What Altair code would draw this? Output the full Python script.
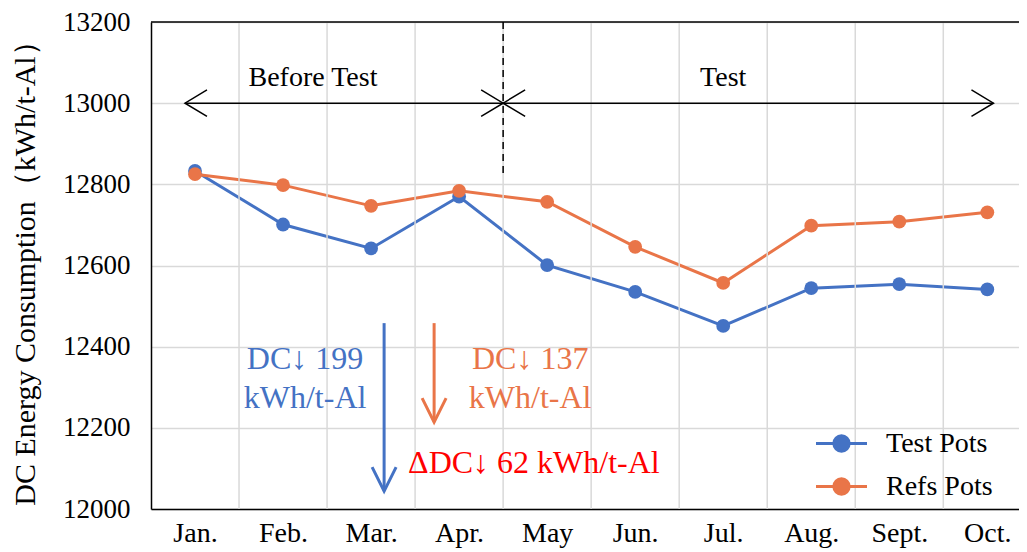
import altair as alt
import pandas as pd

# ---------------- data ----------------
months = ["Jan.", "Feb.", "Mar.", "Apr.", "May", "Jun.", "Jul.", "Aug.", "Sept.", "Oct."]
test_pots = [12833, 12701, 12642, 12770, 12601, 12535, 12451, 12544, 12554, 12541]
refs_pots = [12825, 12798, 12747, 12784, 12757, 12646, 12557, 12698, 12708, 12731]
series_names = ["Test Pots", "Refs Pots"]
y_ticks = [12000, 12200, 12400, 12600, 12800, 13000, 13200]

FONT = "Liberation Serif"
BLUE = "#4472C4"
ORANGE = "#E97548"
GRID = "#d9d9d9"

rows = []
for i, m in enumerate(months):
    rows.append({"idx": i, "month": m, "series": series_names[0], "value": test_pots[i]})
for i, m in enumerate(months):
    rows.append({"idx": i, "month": m, "series": series_names[1], "value": refs_pots[i]})
df = pd.DataFrame(rows)

xscale = alt.Scale(domain=[-0.5, 9.36], nice=False, zero=False)
yscale = alt.Scale(domain=[y_ticks[0], y_ticks[-1]], nice=False, zero=False)
label_expr = "[" + ",".join("'%s'" % m for m in months) + "][datum.value]"

XAXIS = alt.Axis(
    values=list(range(len(months))), labelExpr=label_expr, ticks=False, tickSize=0,
    grid=False, title=None, domainColor="black", domainWidth=1.5,
    labelFont=FONT, labelFontSize=28, labelColor="black", labelPadding=10,
    labelFlush=False, labelOverlap=False,
)
YAXIS = alt.Axis(
    values=y_ticks, format="d", ticks=False, tickSize=0, grid=True, gridColor=GRID, gridWidth=1.5,
    domainColor="black", domainWidth=1.5,
    labelFont=FONT, labelFontSize=27, labelColor="black", labelPadding=21,
    title="DC Energy Consumption（kWh/t-Al）", titleFont=FONT, titleFontSize=30,
    titleFontWeight="normal", titleColor="black", titlePadding=22,
)


def X(field):
    return alt.X(field, scale=xscale, axis=XAXIS)


def Y(field):
    return alt.Y(field, scale=yscale, axis=YAXIS)


# vertical grid lines between categories
bounds = pd.DataFrame({"b": [i + 0.5 for i in range(len(months) - 1)]})
vgrid = alt.Chart(bounds).mark_rule(color=GRID, strokeWidth=1.5).encode(x=X("b:Q"))

top_line = alt.Chart(pd.DataFrame({"y": [y_ticks[-1]]})).mark_rule(
    color="black", strokeWidth=1.5
).encode(y=Y("y:Q"))

sym_path = "M-2,0L2,0M0.6,0A0.6,0.6,0,1,1,-0.6,0A0.6,0.6,0,1,1,0.6,0"

lines = alt.Chart(df).mark_line(
    strokeWidth=3, point=alt.OverlayMarkDef(filled=True, size=190, opacity=1)
).encode(
    x=X("idx:Q"),
    y=Y("value:Q"),
    color=alt.Color(
        "series:N", sort=series_names,
        scale=alt.Scale(domain=series_names, range=[BLUE, ORANGE]),
        legend=alt.Legend(
            title=None, orient="none", legendX=676, legendY=407,
            symbolType=sym_path, symbolSize=650, symbolStrokeWidth=3,
            labelFont=FONT, labelFontSize=28, labelColor="black", labelOffset=30,
            rowPadding=14,
        ),
    ),
)

# dashed separator between periods
sep = alt.Chart(pd.DataFrame({"x": [3.5], "y": [13200], "y2": [12828]})).mark_rule(
    color="black", strokeWidth=1.5, strokeDash=[7, 5]
).encode(x=X("x:Q"), y=Y("y:Q"), y2="y2:Q")

# horizontal double arrows
harrows = pd.DataFrame({"x": [-0.114, 3.5], "x2": [3.5, 9.07], "y": [13000, 13000]})
hline = alt.Chart(harrows).mark_rule(color="black", strokeWidth=1.5).encode(
    x=X("x:Q"), x2="x2:Q", y=Y("y:Q")
)
left_heads = alt.Chart(harrows).mark_point(
    shape="M1,-0.6L0,0L1,0.6", size=1936, filled=False, color="black", strokeWidth=1.5, opacity=1
).encode(x=X("x:Q"), y=Y("y:Q"))
right_heads = alt.Chart(harrows).mark_point(
    shape="M-1,-0.6L0,0L-1,0.6", size=1936, filled=False, color="black", strokeWidth=1.5, opacity=1
).encode(x=X("x2:Q"), y=Y("y:Q"))

period_text = pd.DataFrame({"x": [1.34, 6.0], "y": [13042, 13042], "t": ["Before Test", "Test"]})
period_labels = alt.Chart(period_text).mark_text(
    font=FONT, fontSize=28, color="black", align="center", baseline="alphabetic"
).encode(x=X("x:Q"), y=Y("y:Q"), text="t:N")

# vertical down arrows
varrows = pd.DataFrame({"x": [2.148, 2.716], "y": [12458, 12458], "y2": [12044, 12214],
                        "c": [BLUE, ORANGE]})
vline = alt.Chart(varrows).mark_rule(strokeWidth=3).encode(
    x=X("x:Q"), y=Y("y:Q"), y2="y2:Q",
    color=alt.Color("c:N", scale=None),
)
vheads = alt.Chart(varrows).mark_point(
    shape="M-0.5,-1L0,0L0.5,-1", size=2304, filled=False, strokeWidth=3, opacity=1
).encode(
    x=X("x:Q"), y=Y("y2:Q"),
    stroke=alt.Color("c:N", scale=None),
)

notes = pd.DataFrame({
    "x": [1.25, 3.807],
    "y": [12345, 12345],
    "t": ["DC↓ 199\nkWh/t-Al", "DC↓ 137\nkWh/t-Al"],
    "c": [BLUE, ORANGE],
})
note_labels = alt.Chart(notes).mark_text(
    font=FONT, fontSize=32, align="center", baseline="alphabetic", lineBreak="\n", lineHeight=39
).encode(
    x=X("x:Q"), y=Y("y:Q"), text="t:N",
    color=alt.Color("c:N", scale=None),
)

delta = alt.Chart(pd.DataFrame({"x": [2.42], "y": [12089], "t": ["ΔDC↓ 62 kWh/t-Al"]})).mark_text(
    font=FONT, fontSize=32, align="left", baseline="alphabetic", color="#FF0000"
).encode(x=X("x:Q"), y=Y("y:Q"), text="t:N")

chart = alt.layer(
    lines, vgrid, top_line, sep, hline, left_heads, right_heads, period_labels,
    vline, vheads, note_labels, delta,
).properties(
    width=868, height=487,
    autosize=alt.AutoSizeParams(type="none"),
    padding={"left": 143, "top": 14, "right": 0, "bottom": 44},
).configure_view(stroke=None)

chart.save("out.html", embed_options={"renderer": "svg", "actions": False})
